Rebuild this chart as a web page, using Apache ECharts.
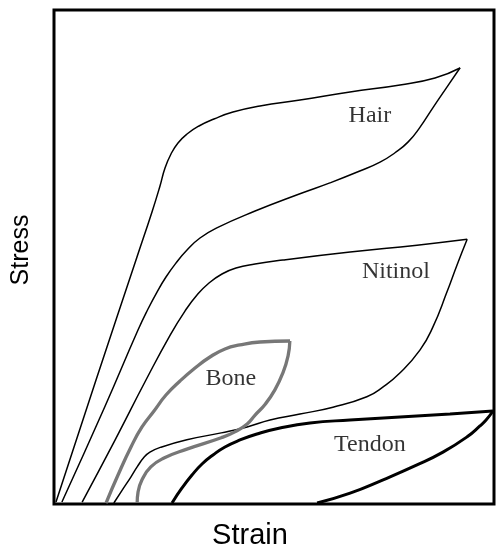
<!DOCTYPE html>
<html>
<head>
<meta charset="utf-8">
<script src="https://cdn.jsdelivr.net/npm/echarts@6/dist/echarts.min.js"></script>
<style>html,body{margin:0;padding:0;background:#fff;}#c{width:496px;height:551px;}</style>
</head>
<body>
<div id="c"></div>
<script>
// Strain (x) / Stress (y), arbitrary units 0-100
const hairLoad = [[0.45,0.40],[9.55,25.10],[18.86,50.00],[22.27,59.11],[24.09,64.37],[25.23,68.02],[26.59,70.85],[28.18,73.08],[30.23,74.90],[32.95,76.52],[36.36,77.94],[40.68,79.35],[46.82,80.57],[55.91,81.78],[67.27,83.40],[78.64,84.82],[86.59,86.23],[92.27,88.26]];
const hairUnload = [[92.3,88.3],[89.3,84.4],[86.1,80.2],[83.2,76.3],[80.5,73.3],[77.5,71.1],[74.1,69.2],[69.5,67.4],[62.7,65.0],[55.9,62.8],[45.7,59.3],[37.0,55.9],[33.18,53.85],[30.23,51.42],[27.73,48.79],[25.45,45.95],[23.41,42.91],[21.36,39.47],[19.09,35.22],[11.6,19.8],[1.8,0.4]];
const nitinolLoad = [[6.4,0.4],[13.9,13.0],[20.9,25.1],[26.4,34.2],[29.8,39.1],[32.5,42.3],[35.23,44.74],[38.18,46.56],[41.36,47.77],[45.68,48.58],[52.05,49.39],[67.3,51.0],[82.5,52.4],[93.9,53.6]];
const nitinolUnload = [[93.9,53.6],[91.6,48.4],[89.3,42.9],[86.1,35.8],[83.2,31.2],[78.6,26.5],[74.8,23.7],[71.1,21.7],[63.4,19.6],[55.9,18.2],[49.1,17.0],[43.9,15.6],[38.0,14.4],[30.2,13.0],[24.3,11.5],[21.8,10.5],[20.5,9.5],[18.9,7.5],[17.5,5.5],[15.5,2.8],[13.6,0.2]];
const boneLoad = [[11.82,0.20],[14.55,5.87],[17.50,11.54],[20.00,15.59],[22.73,18.83],[25.45,22.06],[28.64,24.90],[32.05,27.53],[35.45,29.76],[38.86,31.38],[42.27,32.19],[46.82,32.79],[53.64,33.00]];
const boneUnload = [[53.6,33.0],[53.2,30.0],[52.0,26.5],[50.2,23.1],[48.0,20.2],[45.7,18.0],[43.9,16.2],[41.1,14.6],[38.0,13.4],[30.2,11.1],[25.0,9.3],[22.0,7.5],[20.0,4.9],[19.1,2.4],[18.9,0.2]];
const tendonLoad = [[26.82,0.20],[29.09,3.24],[31.36,5.87],[33.64,8.10],[36.14,9.92],[38.86,11.54],[42.27,12.96],[46.14,14.17],[51.36,15.38],[58.18,16.40],[67.27,17.00],[78.64,17.61],[90.00,18.22],[99.77,18.83]];
const tendonUnload = [[99.77,18.83],[98.2,17.0],[96.8,15.8],[93.9,13.6],[88.4,10.5],[82.5,7.9],[74.8,4.9],[67.3,2.2],[59.8,0.2]];
const labelNames = ['Hair','Nitinol','Bone','Tendon'];
const labelPos = [[71.8,78.6],[77.7,47.0],[40.2,25.3],[71.8,12.0]];
const xName = 'Strain';
const yName = 'Stress';

const thin = {color:'#000', width:1.5};
const boneStyle = {color:'#777', width:3.3};
const tendonStyle = {color:'#000', width:3};
function ln(data, style){
  return {type:'line', data:data, smooth:0.5, symbol:'none', lineStyle:style, silent:true, z:3};
}
const chart = echarts.init(document.getElementById('c'), null, {renderer:'canvas'});
chart.setOption({
  animation:false,
  backgroundColor:'#fff',
  grid:{left:54, top:10, right:2, bottom:47, show:true, borderColor:'#000', borderWidth:3, backgroundColor:'transparent'},
  xAxis:{type:'value', min:0, max:100,
    axisLine:{show:false}, axisTick:{show:false}, axisLabel:{show:false}, splitLine:{show:false}},
  yAxis:{type:'value', min:0, max:100,
    axisLine:{show:false}, axisTick:{show:false}, axisLabel:{show:false}, splitLine:{show:false}},
  graphic:[
    {type:'text', x:250, y:536, style:{text:xName, font:'29px "Liberation Sans", Arial, sans-serif', fill:'#000', textAlign:'center', textVerticalAlign:'middle'}},
    {type:'text', x:21.5, y:250, rotation:Math.PI/2, style:{text:yName, font:'25px "Liberation Sans", Arial, sans-serif', fill:'#000', textAlign:'center', textVerticalAlign:'middle'}}
  ],
  series:[
    ln(hairLoad, thin), ln(hairUnload, thin),
    ln(nitinolLoad, thin), ln(nitinolUnload, thin),
    ln(boneLoad, boneStyle), ln(boneUnload, boneStyle),
    ln(tendonLoad, tendonStyle), ln(tendonUnload, tendonStyle),
    {type:'scatter', symbolSize:0, silent:true, z:5,
     data: labelNames.map((n,i)=>({name:n, value:labelPos[i]})),
     label:{show:true, position:'inside', formatter:p=>p.name, fontFamily:'Liberation Serif', fontSize:24, color:'#000'}}
  ]
});
</script>
</body>
</html>
